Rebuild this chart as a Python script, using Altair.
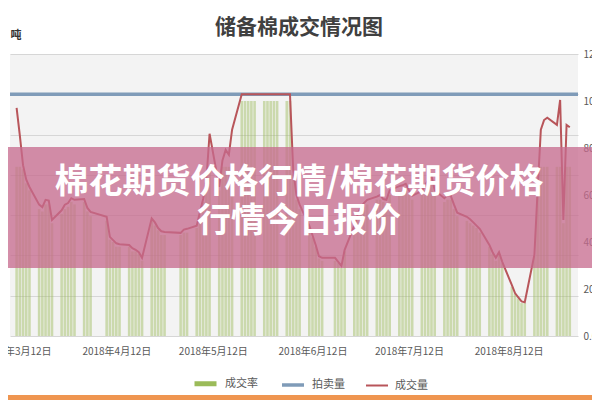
import altair as alt
import pandas as pd

TITLE = "储备棉成交情况图"
UNIT = "吨"
BANNER_TEXT = "棉花期货价格行情/棉花期货价格\n行情今日报价"
SERIES = ["成交率", "拍卖量", "成交量"]
COLORS = ["#9bbb59", "#7f9bb8", "#b8555a"]
AUCTION_VOLUME = 30000
X_TICKS = ["2018-03-12", "2018-04-12", "2018-05-12", "2018-06-12", "2018-07-12", "2018-08-12"]

DATES = [
    "2018-03-12", "2018-03-13", "2018-03-14", "2018-03-15", "2018-03-16",
    "2018-03-19", "2018-03-20", "2018-03-21", "2018-03-22", "2018-03-23",
    "2018-03-26", "2018-03-27", "2018-03-28", "2018-03-29", "2018-03-30",
    "2018-04-02", "2018-04-03", "2018-04-04",
    "2018-04-09", "2018-04-10", "2018-04-11", "2018-04-12", "2018-04-13",
    "2018-04-16", "2018-04-17", "2018-04-18", "2018-04-19", "2018-04-20",
    "2018-04-23", "2018-04-24", "2018-04-25", "2018-04-26", "2018-04-27",
    "2018-05-02", "2018-05-03", "2018-05-04",
    "2018-05-07", "2018-05-08", "2018-05-09", "2018-05-10", "2018-05-11",
    "2018-05-14", "2018-05-15", "2018-05-16", "2018-05-17", "2018-05-18",
    "2018-05-21", "2018-05-22", "2018-05-23", "2018-05-24", "2018-05-25",
    "2018-05-28", "2018-05-29", "2018-05-30", "2018-05-31", "2018-06-01",
    "2018-06-04", "2018-06-05", "2018-06-06", "2018-06-07", "2018-06-08",
    "2018-06-11", "2018-06-12", "2018-06-13", "2018-06-14", "2018-06-15",
    "2018-06-19", "2018-06-20", "2018-06-21", "2018-06-22",
    "2018-06-25", "2018-06-26", "2018-06-27", "2018-06-28", "2018-06-29",
    "2018-07-02", "2018-07-03", "2018-07-04", "2018-07-05", "2018-07-06",
    "2018-07-09", "2018-07-10", "2018-07-11", "2018-07-12", "2018-07-13",
    "2018-07-16", "2018-07-17", "2018-07-18", "2018-07-19", "2018-07-20",
    "2018-07-23", "2018-07-24", "2018-07-25", "2018-07-26", "2018-07-27",
    "2018-07-30", "2018-07-31", "2018-08-01", "2018-08-02", "2018-08-03",
    "2018-08-06", "2018-08-07", "2018-08-08", "2018-08-09", "2018-08-10",
    "2018-08-13", "2018-08-14", "2018-08-15", "2018-08-16", "2018-08-17",
    "2018-08-20", "2018-08-21", "2018-08-22", "2018-08-23", "2018-08-24",
    "2018-08-27", "2018-08-28", "2018-08-29", "2018-08-30", "2018-08-31",
]

VOLUME = [
    28300, 24900, 21200, 19400, 18500,
    16300, 16000, 16900, 16800, 14400,
    15600, 16300, 16500, 17100, 16900,
    17000, 15900, 15400,
    14800, 12300, 11900, 11500, 11400,
    11300, 10900, 10700, 10400, 9700,
    14600, 14100, 13400, 13000, 12900,
    12800, 13200, 13300,
    13700, 15400, 17000, 19400, 25100,
    18500, 21800, 23100, 22500, 25600,
    30000, 30000, 30000, 30000, 30000,
    30000, 30000, 30000, 30000, 30000,
    30000, 30000, 20600, 17500, 16300,
    13700, 12500, 11300, 9900, 9700,
    9700, 9200, 8700, 10700,
    13700, 15000, 16000, 16500, 16900,
    17300, 17500, 17000, 16900, 18100,
    18600, 18700, 18900, 18100, 17400,
    18000, 18700, 19400, 19900, 18100,
    17100, 17500, 17400, 16300, 15300,
    14800, 14500, 14100, 13700, 13300,
    11300, 10400, 9700, 10400, 9200,
    6300, 5300, 4800, 4300, 4200,
    10100, 18100, 25600, 26800, 27100,
    26200, 29300, 14400, 26200, 25900,
]

RATE = [
    0.72, 0.72, 0.71, 0.65, 0.62,
    0.54, 0.53, 0.56, 0.56, 0.48,
    0.52, 0.54, 0.55, 0.57, 0.56,
    0.57, 0.53, 0.51,
    0.49, 0.41, 0.40, 0.38, 0.38,
    0.38, 0.36, 0.36, 0.35, 0.32,
    0.49, 0.47, 0.45, 0.43, 0.43,
    0.43, 0.44, 0.44,
    0.46, 0.51, 0.57, 0.65, 0.72,
    0.62, 0.72, 0.72, 0.72, 0.72,
    1.00, 1.00, 1.00, 1.00, 1.00,
    1.00, 1.00, 1.00, 1.00, 1.00,
    1.00, 1.00, 0.69, 0.58, 0.54,
    0.46, 0.42, 0.38, 0.33, 0.32,
    0.32, 0.31, 0.29, 0.36,
    0.46, 0.50, 0.53, 0.55, 0.56,
    0.58, 0.58, 0.57, 0.56, 0.60,
    0.62, 0.62, 0.63, 0.60, 0.58,
    0.60, 0.62, 0.65, 0.66, 0.60,
    0.57, 0.58, 0.58, 0.54, 0.51,
    0.49, 0.48, 0.47, 0.46, 0.44,
    0.38, 0.35, 0.32, 0.35, 0.31,
    0.21, 0.18, 0.16, 0.14, 0.14,
    0.34, 0.60, 0.72, 0.72, 0.72,
    0.72, 0.72, 0.48, 0.72, 0.72,
]

FONT = "Noto Sans CJK SC"

days = pd.DataFrame({
    "date": pd.to_datetime(DATES),
    "rate": RATE,
    "volume": VOLUME,
    "series": "成交量",
})
auction = pd.DataFrame({"series": ["拍卖量"], "volume": [AUCTION_VOLUME]})
banner = pd.DataFrame({"t": [BANNER_TEXT]})
title_df = pd.DataFrame({"t": [TITLE]})
unit_df = pd.DataFrame({"t": [UNIT]})


def dt(s, hours=0):
    return alt.DateTime(year=int(s[:4]), month=int(s[5:7]), date=int(s[8:10]), hours=hours)


x_scale = alt.Scale(domain=[dt("2018-03-11", 12), dt("2018-09-01", 0)])
x_axis = alt.Axis(
    values=[dt(s) for s in X_TICKS], format="%Y年%-m月%-d日", labelFlush=False,
    labelOverlap=False, ticks=False, tickSize=0, domain=False, grid=False,
    labelPadding=10, labelFontSize=10, labelColor="#595959", labelFont=FONT, title=None,
)

bars = alt.Chart(days).mark_bar(size=2.6, color="#9bbb59", opacity=0.45).encode(
    x=alt.X("date:T", scale=x_scale, axis=x_axis),
    y=alt.Y("rate:Q", scale=alt.Scale(domain=[0, 1.2], nice=False),
            axis=alt.Axis(orient="right", values=[0, 0.2, 0.4, 0.6, 0.8, 1.0, 1.2], format=".2%",
                          grid=False, ticks=False, tickSize=0, domain=False, labelPadding=5,
                          labelFontSize=10, labelColor="#595959", labelFont=FONT, title=None)),
)

legend = alt.Legend(
    title=None, orient="none", legendX=182, legendY=316, direction="horizontal",
    symbolType="stroke", symbolSize=484, labelFontSize=11, labelColor="#595959",
    labelFont=FONT, labelOffset=6, columnPadding=17,
)
color_enc = alt.Color("series:N", scale=alt.Scale(domain=SERIES, range=COLORS), legend=legend)
width_enc = alt.StrokeWidth("series:N", scale=alt.Scale(domain=SERIES, range=[5, 2, 1.5]), legend=legend)
y_tons = alt.Y("volume:Q", scale=alt.Scale(domain=[0, 35000], nice=False),
               axis=alt.Axis(orient="left", values=[0, 5000, 10000, 15000, 20000, 25000, 30000, 35000],
                             labels=False, ticks=False, domain=False, grid=True,
                             gridColor="#d6d6d6", gridWidth=1, title=None))

auction_rule = alt.Chart(auction).mark_rule().encode(y=y_tons, color=color_enc, strokeWidth=width_enc)
volume_line = alt.Chart(days).mark_line().encode(
    x=alt.X("date:T", scale=x_scale, axis=x_axis), y=y_tons, color=color_enc, strokeWidth=width_enc,
)
lines = alt.layer(auction_rule, volume_line)

banner_rect = alt.Chart(banner).mark_rect(color="#c76a8e", opacity=0.76).encode(
    x=alt.value(-2), x2=alt.value(582), y=alt.value(93), y2=alt.value(214)
)
banner_text = alt.Chart(banner).mark_text(
    font=FONT, fontSize=34, fontWeight="bold", color="white", lineBreak="\n", lineHeight=39,
    align="center", baseline="middle",
).encode(text="t:N", x=alt.value(289), y=alt.value(129))

title_text = alt.Chart(title_df).mark_text(
    font=FONT, fontSize=21, fontWeight="bold", color="#404040", align="center", baseline="middle"
).encode(text="t:N", x=alt.value(289), y=alt.value(-26))

unit_text = alt.Chart(unit_df).mark_text(
    font=FONT, fontSize=11, fontWeight="bold", color="#333333", align="center", baseline="middle"
).encode(text="t:N", x=alt.value(6), y=alt.value(-18))

orange = alt.Chart(banner).mark_rect(color="#ef9550").encode(
    x=alt.value(-2), x2=alt.value(582), y=alt.value(341), y2=alt.value(346)
)

chart = alt.layer(
    bars, lines, banner_rect, banner_text, title_text, unit_text, orange
).resolve_scale(y="independent").properties(
    width=568, height=282,
    autosize=alt.AutoSizeParams(type="none"),
    padding={"left": 2, "top": 46, "right": 14, "bottom": 64},
).configure(font=FONT, background="white").configure_view(fill="#f3f3f3", strokeWidth=0)

chart.save("out.html", embed_options={"renderer": "svg", "actions": False})
